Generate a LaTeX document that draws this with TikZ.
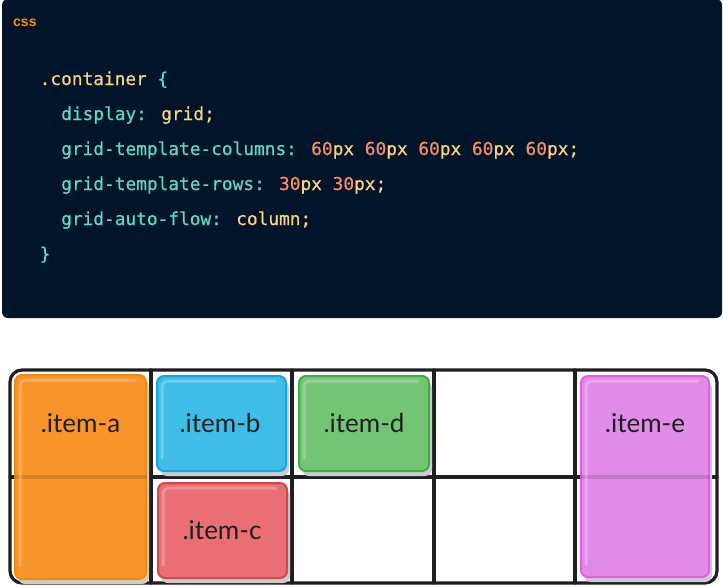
\documentclass[tikz,border=0pt]{standalone}
\usepackage{fontspec}
\newfontfamily\itemfont{Lato}
\newfontfamily\codefont[FakeBold=0.5]{DejaVu Sans Mono}
\newfontfamily\tagfont{Liberation Sans}
\usetikzlibrary{shadows}

\definecolor{panelbg}{HTML}{001529}
\definecolor{cteal}{HTML}{5FDCC4}
\definecolor{cyell}{HTML}{FFD27F}
\definecolor{cnum}{HTML}{FF8C66}
\definecolor{ctag}{HTML}{FF8C00}
\definecolor{afill}{HTML}{F8952A}\definecolor{aline}{HTML}{F48A0C}
\definecolor{bfill}{HTML}{3EBEE6}\definecolor{bline}{HTML}{14A5E3}
\definecolor{cfill}{HTML}{EA6F74}\definecolor{cline}{HTML}{D0474C}
\definecolor{dfill}{HTML}{74C476}\definecolor{dline}{HTML}{3DAE42}
\definecolor{efill}{HTML}{E08BE8}\definecolor{eline}{HTML}{E65BEA}

\tikzset{
  codeline/.style={anchor=base west, inner sep=0pt, text=cteal,
    font=\codefont\fontsize{17.8}{20}\selectfont},
  itembox/.style={line width=2pt, rounded corners=7pt, inner sep=0pt,
    drop shadow={shadow xshift=3pt, shadow yshift=-5pt, fill=black!20, opacity=1}},
  itemlabel/.style={inner sep=0pt, text=black!88, font=\itemfont\fontsize{26}{30}\selectfont},
  cellline/.style={line width=3.2pt, draw=black!88, line cap=round},
  rowtint/.style={line width=3.2pt, draw=black, opacity=0.12},
  gloss/.style={line width=3pt, draw=white, opacity=0.25, rounded corners=6pt, line cap=round},
}
\newcommand\gloss[1]{%
  \draw[gloss] ([shift={(6pt,14pt)}]#1.south west) -- ([shift={(6pt,-6pt)}]#1.north west)
    -- ([shift={(-12pt,-6pt)}]#1.north east);}
\newcommand\num[1]{\textcolor{cnum}{#1}\textcolor{cyell}{px}}

\begin{document}
\begin{tikzpicture}[x=1pt, y=-1pt]

  \useasboundingbox[fill=white] (0,0) rectangle (723,586);

  % code panel
  \fill[panelbg, rounded corners=6pt] (2,-1) rectangle (722,318);
  \node[anchor=base west, inner sep=0pt, text=ctag, font=\tagfont\bfseries\fontsize{14}{16}\selectfont] (tag) at (13,27) {css};

  \node[codeline] (l1) at (39.5,85)  {\textcolor{cyell}{.container} \{};
  \node[codeline] (l2) at (61,120)   {display: \textcolor{cyell}{grid;}};
  \node[codeline] (l3) at (61,155)   {grid-template-columns: \num{60} \num{60} \num{60} \num{60} \num{60}\textcolor{cyell}{;}};
  \node[codeline] (l4) at (61,190)   {grid-template-rows: \num{30} \num{30}\textcolor{cyell}{;}};
  \node[codeline] (l5) at (61,225)   {grid-auto-flow: \textcolor{cyell}{column;}};
  \node[codeline] (l6) at (39.5,260) {\}};

  % grid
  \fill[white, rounded corners=12pt] (10,370) rectangle (717,583);
  \foreach \x in {151,292,434,575}
    \draw[cellline] (\x,370) -- (\x,583);
  \draw[cellline] (10,477) -- (717,477);
  \draw[cellline, rounded corners=12pt] (10,370) rectangle (717,583);
  \coordinate (rowL) at (10,477);

  % items
  \node[itembox, fill=afill, draw=aline, minimum width=131pt, minimum height=204pt] (a) at (80.5,477) {};
  \node[itembox, fill=bfill, draw=bline, minimum width=129pt, minimum height=95pt]  (b) at (221.5,423.5) {};
  \node[itembox, fill=cfill, draw=cline, minimum width=129pt, minimum height=95pt]  (c) at (222.5,530.5) {};
  \node[itembox, fill=dfill, draw=dline, minimum width=130pt, minimum height=95pt]  (d) at (364,423.5) {};
  \node[itembox, fill=efill, draw=eline, minimum width=128pt, minimum height=201pt] (e) at (645,476.5) {};

  \draw[rowtint] (a.west |- rowL) -- (a.east |- rowL);
  \draw[rowtint] (e.west |- rowL) -- (e.east |- rowL);
  \foreach \n in {a,b,c,d,e}
    \gloss{\n};

  \node[itemlabel] (la) at (80.5,423)  {.item-a};
  \node[itemlabel] (lb) at (220,423)   {.item-b};
  \node[itemlabel] (lc) at (222,530)   {.item-c};
  \node[itemlabel] (ld) at (364,423)   {.item-d};
  \node[itemlabel] (le) at (645,423)   {.item-e};

\end{tikzpicture}
\end{document}
